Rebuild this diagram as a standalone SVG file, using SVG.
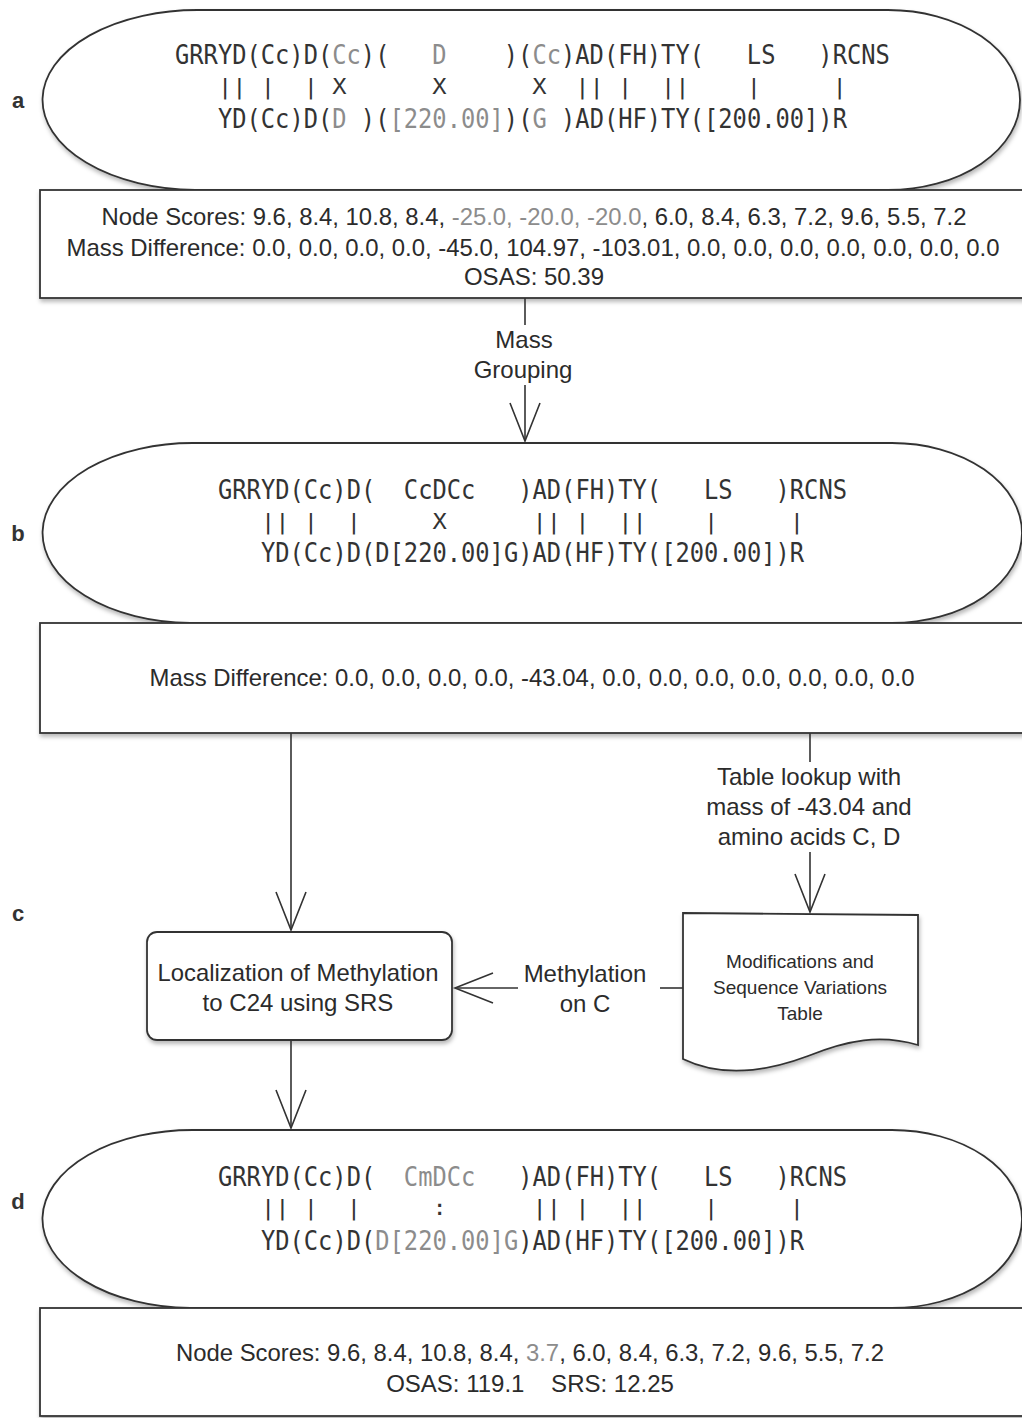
<svg xmlns="http://www.w3.org/2000/svg" width="1022" height="1418" viewBox="0 0 1022 1418">
<defs>
<filter id="sh" x="-5%" y="-10%" width="110%" height="130%">
<feDropShadow dx="1" dy="3" stdDeviation="2" flood-color="#000" flood-opacity="0.28"/>
</filter>
<marker id="v" markerUnits="userSpaceOnUse" viewBox="-2 -2 44 34" markerWidth="44" markerHeight="34" refX="38" refY="15" orient="auto" overflow="visible">
<path d="M0,0 L38,15 L0,30" fill="none" stroke="#333" stroke-width="1.6"/>
</marker>
</defs>
<style>
.shape{fill:#fff;stroke:#333;stroke-width:1.8}
.line{fill:none;stroke:#333;stroke-width:1.6}
.seq{font-family:"DejaVu Sans Mono","Liberation Mono",monospace;font-size:26px;fill:#333;white-space:pre}
.mid{font-family:"DejaVu Sans Mono","Liberation Mono",monospace;font-size:21px;fill:#333;white-space:pre}
.g{fill:#8c8c8c}
.t{font-family:"Liberation Sans",Arial,sans-serif;font-size:24px;fill:#2b2b2b;text-anchor:middle}
.s{font-family:"Liberation Sans",Arial,sans-serif;font-size:19px;fill:#2b2b2b;text-anchor:middle}
.lab{font-family:"Liberation Sans",Arial,sans-serif;font-size:22px;font-weight:bold;fill:#333;text-anchor:middle}
</style>
<rect width="1022" height="1418" fill="#fff"/>

<g id="labels">
<text class="lab" x="18" y="108">a</text>
<text class="lab" x="18" y="541">b</text>
<text class="lab" x="18" y="921">c</text>
<text class="lab" x="18" y="1209">d</text>
</g>

<g id="node-a-ellipse">
<path class="shape" filter="url(#sh)" d="M200,10 H888 A132,90 0 0 1 888,190 H195 A155,90 0 0 1 200,10 Z"/>
<text class="seq" xml:space="preserve" transform="translate(175,64) scale(0.9137,1)">GRRYD(Cc)D(<tspan class="g">Cc</tspan>)(   <tspan class="g">D</tspan>    )(<tspan class="g">Cc</tspan>)AD(FH)TY(   LS   )RCNS</text>
<text class="mid" xml:space="preserve" transform="translate(175,94) scale(1.1311,1)">   || |  | X      X      X  || |  ||    |     |</text>
<text class="seq" xml:space="preserve" transform="translate(217.9,128) scale(0.9137,1)">YD(Cc)D(<tspan class="g">D</tspan> )(<tspan class="g">[220.00]</tspan>)(<tspan class="g">G</tspan> )AD(HF)TY([200.00])R</text>
</g>

<g id="node-a-box">
<rect class="shape" filter="url(#sh)" x="40" y="190" width="995" height="108"/>
<text class="t" x="534" y="225" textLength="865" lengthAdjust="spacingAndGlyphs">Node Scores: 9.6, 8.4, 10.8, 8.4, <tspan class="g">-25.0, -20.0, -20.0</tspan>, 6.0, 8.4, 6.3, 7.2, 9.6, 5.5, 7.2</text>
<text class="t" x="533" y="256" textLength="933" lengthAdjust="spacingAndGlyphs">Mass Difference: 0.0, 0.0, 0.0, 0.0, -45.0, 104.97, -103.01, 0.0, 0.0, 0.0, 0.0, 0.0, 0.0, 0.0</text>
<text class="t" x="534" y="285">OSAS: 50.39</text>
</g>

<g id="node-b-ellipse">
<path class="shape" filter="url(#sh)" d="M195,443 H892 A130,90 0 0 1 892,623 H190 A150,90 0 0 1 195,443 Z"/>
<text class="seq" xml:space="preserve" transform="translate(218,499) scale(0.9137,1)">GRRYD(Cc)D(  CcDCc   )AD(FH)TY(   LS   )RCNS</text>
<text class="mid" xml:space="preserve" transform="translate(218,529) scale(1.1311,1)">   || |  |     X      || |  ||    |     |</text>
<text class="seq" xml:space="preserve" transform="translate(260.9,562) scale(0.9137,1)">YD(Cc)D(D[220.00]G)AD(HF)TY([200.00])R</text>
</g>

<g id="node-b-box">
<rect class="shape" filter="url(#sh)" x="40" y="623" width="995" height="110"/>
<text class="t" x="532" y="686" textLength="765" lengthAdjust="spacingAndGlyphs">Mass Difference: 0.0, 0.0, 0.0, 0.0, -43.04, 0.0, 0.0, 0.0, 0.0, 0.0, 0.0, 0.0</text>
</g>

<g id="node-localization">
<rect class="shape" filter="url(#sh)" x="147" y="932" width="305" height="108" rx="10"/>
<text class="t" x="298" y="981" textLength="281" lengthAdjust="spacingAndGlyphs">Localization of Methylation</text>
<text class="t" x="298" y="1011">to C24 using SRS</text>
</g>

<g id="node-table">
<path class="shape" filter="url(#sh)" d="M683,913 L918,915 L918,1045 C880,1034 848,1040 808,1056 C768,1071 722,1078 683,1059 Z"/>
<text class="s" x="800" y="968">Modifications and</text>
<text class="s" x="800" y="994">Sequence Variations</text>
<text class="s" x="800" y="1020">Table</text>
</g>

<g id="node-d-ellipse">
<path class="shape" filter="url(#sh)" d="M195,1130 H892 A130,89 0 0 1 892,1308 H190 A150,89 0 0 1 195,1130 Z"/>
<text class="seq" xml:space="preserve" transform="translate(218,1186) scale(0.9137,1)">GRRYD(Cc)D(  <tspan class="g">CmDCc</tspan>   )AD(FH)TY(   LS   )RCNS</text>
<text class="mid" xml:space="preserve" transform="translate(218,1215) scale(1.1311,1)">   || |  |     :      || |  ||    |     |</text>
<text class="seq" xml:space="preserve" transform="translate(260.9,1250) scale(0.9137,1)">YD(Cc)D(<tspan class="g">D[220.00]G</tspan>)AD(HF)TY([200.00])R</text>
</g>

<g id="node-d-box">
<rect class="shape" filter="url(#sh)" x="40" y="1308" width="995" height="108"/>
<text class="t" x="530" y="1361" textLength="708" lengthAdjust="spacingAndGlyphs">Node Scores: 9.6, 8.4, 10.8, 8.4, <tspan class="g">3.7</tspan>, 6.0, 8.4, 6.3, 7.2, 9.6, 5.5, 7.2</text>
<text class="t" x="530" y="1392" xml:space="preserve" style="white-space:pre">OSAS: 119.1    SRS: 12.25</text>
</g>

<g id="connectors">
<path class="line" d="M525,298 V325"/>
<path class="line" d="M525,385 V441" marker-end="url(#v)"/>
<text class="t" x="524" y="348">Mass</text>
<text class="t" x="523" y="378">Grouping</text>
<path class="line" d="M291,733 V930" marker-end="url(#v)"/>
<path class="line" d="M810,733 V762"/>
<text class="t" x="809" y="785">Table lookup with</text>
<text class="t" x="809" y="815">mass of -43.04 and</text>
<text class="t" x="809" y="845">amino acids C, D</text>
<path class="line" d="M810,852 V912" marker-end="url(#v)"/>
<path class="line" d="M683,988 H660"/>
<text class="t" x="585" y="982">Methylation</text>
<text class="t" x="585" y="1012">on C</text>
<path class="line" d="M518,988 H455" marker-end="url(#v)"/>
<path class="line" d="M291,1040 V1128" marker-end="url(#v)"/>
</g>
</svg>
